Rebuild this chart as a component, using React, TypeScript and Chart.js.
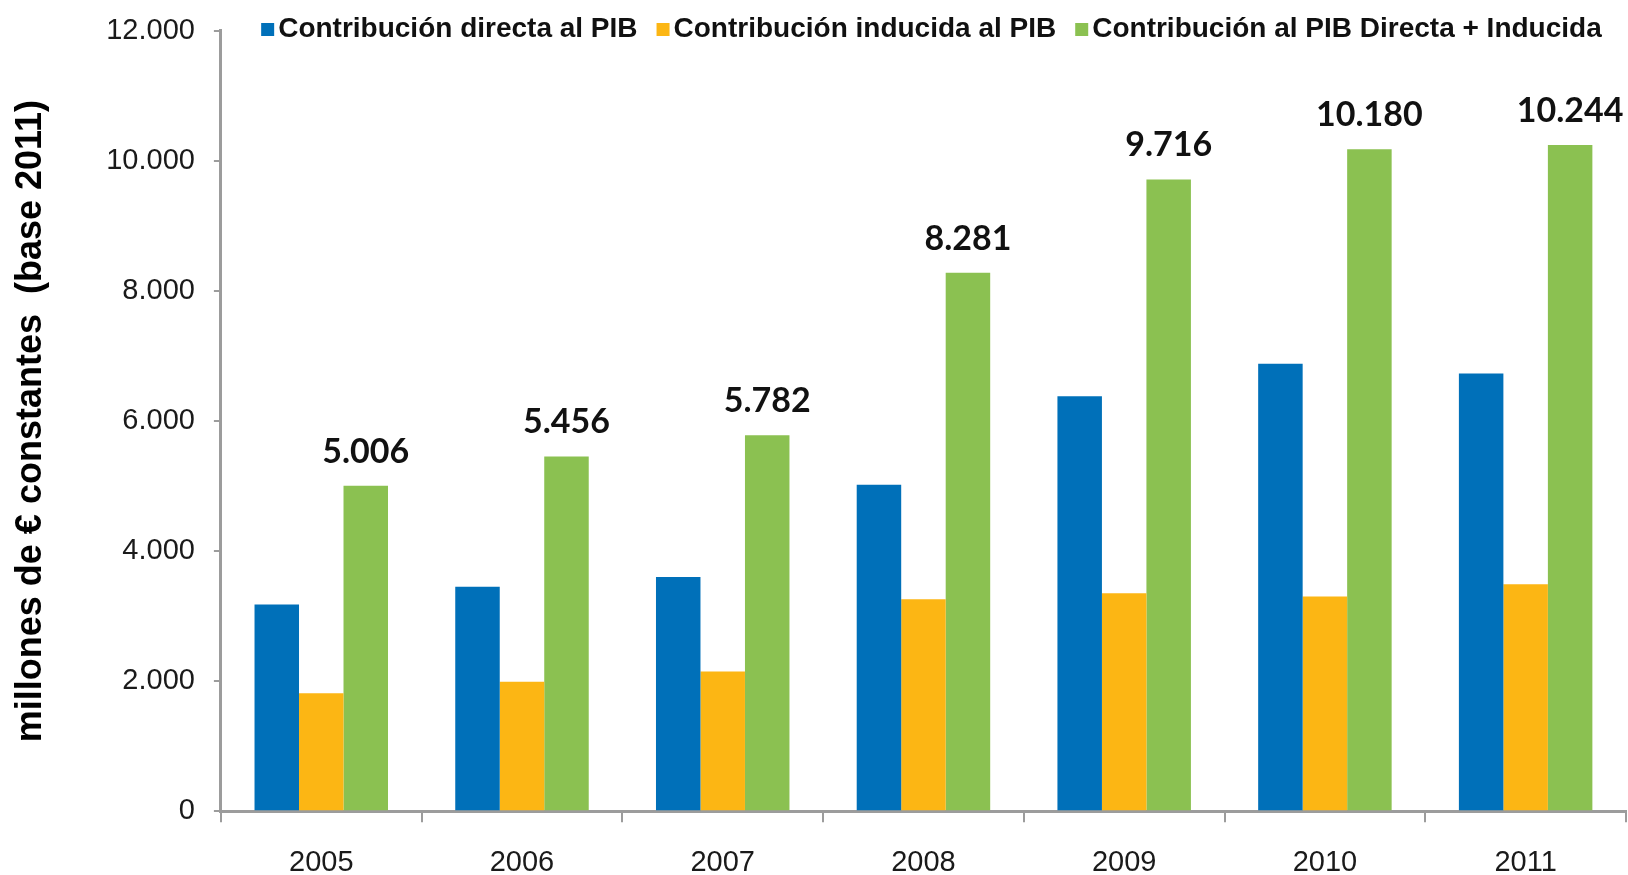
import React, { useEffect, useRef } from 'react';
import { Chart, registerables } from 'chart.js';

Chart.register(...registerables);

const years = ['2005', '2006', '2007', '2008', '2009', '2010', '2011'];
const directa = [3180, 3450, 3600, 5020, 6380, 6880, 6730];
const inducida = [1815, 1990, 2150, 3260, 3350, 3300, 3490];
const total = [5006, 5456, 5782, 8281, 9716, 10180, 10244];
const seriesNames = [
  'Contribución directa al PIB',
  'Contribución inducida al PIB',
  'Contribución al PIB Directa + Inducida',
];
const seriesColors = ['#0070b9', '#fcb614', '#8bc151'];
const yMin = 0;
const yMax = 12000;
const yStep = 2000;
const yTitle = 'millones de € constantes  (base 2011)';

const axisGrey = '#9c9c9c';

function fmt(n: number): string {
  return String(Math.round(n)).replace(/\B(?=(\d{3})+(?!\d))/g, '.');
}

const valueLabels = {
  id: 'valueLabels',
  afterDatasetsDraw(chart: any) {
    const ctx = chart.ctx;
    const meta = chart.getDatasetMeta(2);
    ctx.save();
    ctx.font = 'bold 34px Lato, "Open Sans", sans-serif';
    ctx.fillStyle = '#111111';
    ctx.textAlign = 'center';
    ctx.textBaseline = 'alphabetic';
    meta.data.forEach((el: any, i: number) => {
      ctx.fillText(fmt(total[i]), el.x, el.y - 23);
    });
    ctx.restore();
  },
};

const topLegend = {
  id: 'topLegend',
  afterDraw(chart: any) {
    const ctx = chart.ctx;
    const area = chart.chartArea;
    ctx.save();
    ctx.font = 'bold 28px "Liberation Sans", Arial, sans-serif';
    const box = 13;
    const gapText = 4;
    const gapItem = 19;
    const widths = seriesNames.map((s) => ctx.measureText(s).width);
    const totalW =
      widths.reduce((a, w) => a + box + gapText + w, 0) + gapItem * (seriesNames.length - 1);
    let x = (area.left + area.right) / 2 - totalW / 2 + 8;
    const baseline = 37;
    ctx.textAlign = 'left';
    ctx.textBaseline = 'alphabetic';
    seriesNames.forEach((s, i) => {
      ctx.fillStyle = seriesColors[i];
      ctx.fillRect(x, baseline - box - 1, box, box);
      ctx.fillStyle = '#111111';
      ctx.fillText(s, x + box + gapText, baseline);
      x += box + gapText + widths[i] + gapItem;
    });
    ctx.restore();
  },
};

export default function App() {
  const canvasRef = useRef<HTMLCanvasElement | null>(null);

  useEffect(() => {
    if (!canvasRef.current) return;
    const chart = new Chart(canvasRef.current, {
      type: 'bar',
      data: {
        labels: years,
        datasets: [
          { label: seriesNames[0], data: directa, backgroundColor: seriesColors[0] },
          { label: seriesNames[1], data: inducida, backgroundColor: seriesColors[1] },
          { label: seriesNames[2], data: total, backgroundColor: seriesColors[2] },
        ],
      },
      options: {
        animation: false,
        responsive: true,
        maintainAspectRatio: false,
        layout: { padding: { top: 0, right: 2, bottom: -28, left: 0 } },
        datasets: {
          bar: { categoryPercentage: 0.665, barPercentage: 1, borderWidth: 0 },
        },
        plugins: {
          legend: { display: false },
          tooltip: { enabled: false },
        },
        scales: {
          x: {
            grid: {
              display: true,
              offset: true,
              drawOnChartArea: false,
              drawTicks: true,
              tickLength: 11,
              color: axisGrey,
              lineWidth: 2,
            },
            border: { display: true, color: axisGrey, width: 3 },
            ticks: {
              color: '#1a1a1a',
              padding: 23,
              font: { family: '"Liberation Sans", Arial, sans-serif', size: 29 },
            },
          },
          y: {
            min: yMin,
            max: yMax,
            ticks: {
              stepSize: yStep,
              color: '#1a1a1a',
              padding: 19,
              font: { family: '"Liberation Sans", Arial, sans-serif', size: 29, lineHeight: 0.82 },
              callback: (v: any) => fmt(Number(v)),
            },
            grid: {
              display: true,
              drawOnChartArea: false,
              drawTicks: true,
              tickLength: 7,
              color: axisGrey,
              lineWidth: 2,
            },
            border: { display: true, color: axisGrey, width: 3 },
            title: {
              display: true,
              text: yTitle,
              color: '#000000',
              font: { family: '"Liberation Sans", Arial, sans-serif', size: 36, weight: 'bold' },
              padding: { top: 9, bottom: 35 },
            },
          },
        },
      },
      plugins: [valueLabels, topLegend],
    });
    return () => chart.destroy();
  }, []);

  return (
    <div style={{ position: 'absolute', left: 0, top: 0, width: 1628, height: 875, background: '#ffffff' }}>
      <canvas ref={canvasRef} />
    </div>
  );
}
